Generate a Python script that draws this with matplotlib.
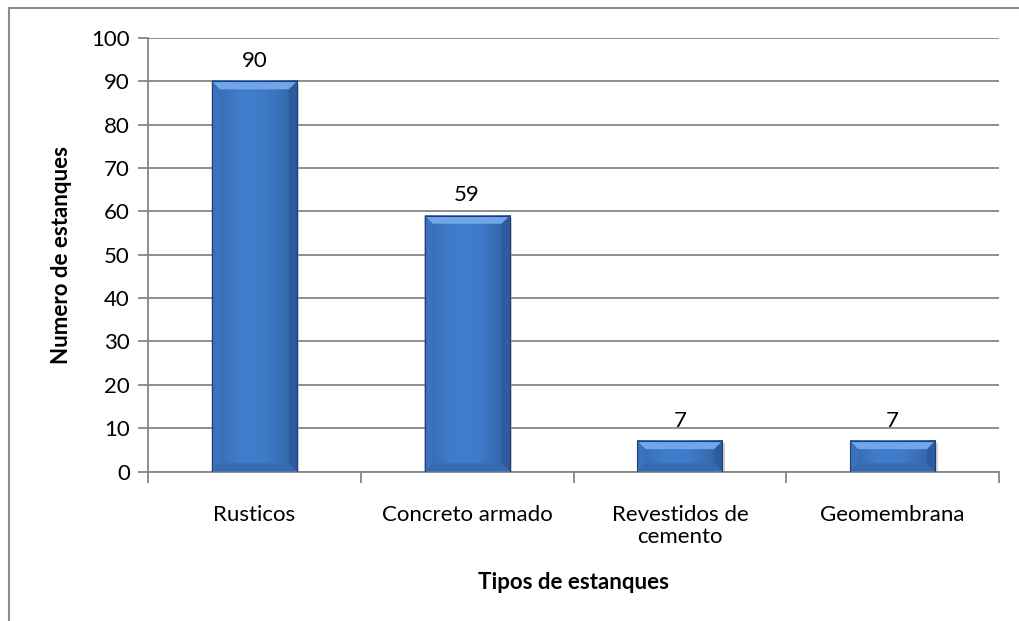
import matplotlib
matplotlib.use('Agg')
import matplotlib.pyplot as plt
from matplotlib.patches import Polygon, Rectangle
import numpy as np

# chart data
categories = ['Rusticos', 'Concreto armado', 'Revestidos de\ncemento', 'Geomembrana']
values = [90, 59, 7, 7]
y_ticks = list(range(0, 101, 10))

plt.rcParams['font.family'] = ['Lato', 'DejaVu Sans']
fs = 16

W, H = 1019, 621
fig = plt.figure(figsize=(W / 100, H / 100), dpi=100)
fig.patch.set_facecolor('white')

# outer chart frame (left and top edges show)
fig.add_artist(Rectangle((9 / W, -0.1), 1.2, 1 - 8 / H + 0.1, transform=fig.transFigure,
                         fill=False, edgecolor='#8c8c8c', linewidth=1.5))

ax = fig.add_axes([148 / W, (H - 471.5) / H, (999 - 148) / W, (471.5 - 38) / H])
ax.set_xlim(-0.5, len(categories) - 0.5)
ax.set_ylim(0, 100)

grey = '#868686'
for s in ['top', 'right']:
    ax.spines[s].set_visible(False)
ax.spines['left'].set_color(grey)
ax.spines['bottom'].set_color(grey)
ax.spines['left'].set_linewidth(1.3)
ax.spines['bottom'].set_linewidth(1.3)

ax.set_yticks(y_ticks)
ax.yaxis.grid(True, color=grey, linewidth=1.3)
ax.set_axisbelow(True)
ax.tick_params(axis='y', length=7, width=1.3, color=grey, labelsize=fs, pad=6)

# x ticks sit between categories, labels in the middle
ax.set_xticks(np.arange(-0.5, len(categories)), minor=False)
ax.set_xticklabels([])
ax.set_xticks(np.arange(len(categories)), minor=True)
ax.set_xticklabels(categories, minor=True, fontsize=fs, linespacing=1.15)
ax.tick_params(axis='x', which='major', length=8, width=1.3, color=grey)
ax.tick_params(axis='x', which='minor', length=0, pad=24)

bar_w = 0.4
face = np.array([0x40, 0x7d, 0xcc]) / 255

# bevel sizes in data units (about 8 px each way)
bx = 8 / 212.75
by = 8 / 4.335
for i, v in enumerate(values):
    x0, x1 = i - bar_w / 2, i + bar_w / 2
    byv = min(by, v / 3)
    # soft shadow
    ax.add_patch(Rectangle((x0 + 0.012, 0), bar_w, v - 0.5, facecolor='#a8a8a8',
                           alpha=0.5, zorder=2, linewidth=0))
    # face gradient, lighter toward the middle
    grad = np.linspace(0, 1, 64)
    shade = 1 - 0.22 * (2 * np.abs(grad - 0.45)) ** 2
    img = np.zeros((1, 64, 3))
    img[0] = face[None, :] * shade[:, None]
    ax.imshow(img, extent=(x0, x1, 0, v), aspect='auto', zorder=3.1,
              interpolation='bilinear')
    # top bevel
    ax.add_patch(Polygon([(x0, v), (x1, v), (x1 - bx, v - byv), (x0 + bx, v - byv)],
                         closed=True, facecolor='#72a6e8', linewidth=0, zorder=3.2))
    # left bevel
    ax.add_patch(Polygon([(x0, v), (x0 + bx, v - byv), (x0 + bx, byv), (x0, 0)],
                         closed=True, facecolor='#3c72bd', linewidth=0, zorder=3.2))
    # right bevel
    ax.add_patch(Polygon([(x1, v), (x1 - bx, v - byv), (x1 - bx, byv), (x1, 0)],
                         closed=True, facecolor='#2c5c9f', linewidth=0, zorder=3.2))
    # bottom bevel
    ax.add_patch(Polygon([(x0, 0), (x0 + bx, byv), (x1 - bx, byv), (x1, 0)],
                         closed=True, facecolor='#3569b2', linewidth=0, zorder=3.2))
    ax.add_patch(Rectangle((x0, 0), bar_w, v, fill=False, edgecolor='#1f3f70',
                           linewidth=0.8, zorder=3.3))
    ax.text(i, v + 2.4, str(v), ha='center', va='bottom', fontsize=fs)

ax.set_xlim(-0.5, len(categories) - 0.5)
ax.set_ylim(0, 100)

ax.set_ylabel('Numero de estanques', fontsize=fs, fontweight='bold', labelpad=14)
ax.set_xlabel('Tipos de estanques', fontsize=fs, fontweight='bold', labelpad=18)

fig.savefig('out.png', dpi=100)
